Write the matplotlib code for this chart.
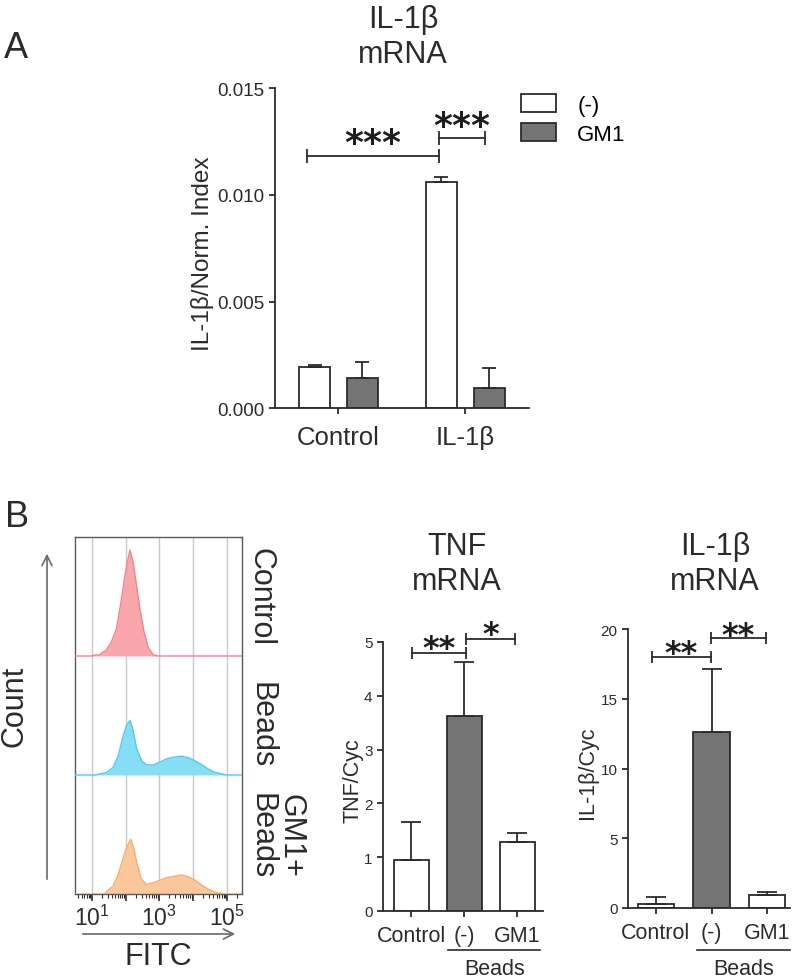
import numpy as np
import matplotlib
matplotlib.use('Agg')
import matplotlib.pyplot as plt
from matplotlib.ticker import FixedLocator, FixedFormatter, LogLocator, NullFormatter

plt.rcParams['font.family'] = ['Liberation Sans', 'DejaVu Sans']
plt.rcParams['mathtext.fontset'] = 'custom'
plt.rcParams['mathtext.rm'] = 'Liberation Sans'
plt.rcParams['mathtext.default'] = 'regular'

W, H = 797, 979

# ---- panel A: IL-1b mRNA / norm. index
a_groups = ['Control', 'IL-1β']
a_neg_mean = [0.00192, 0.01059]
a_neg_sem = [0.00011, 0.00024]
a_gm1_mean = [0.00141, 0.00094]
a_gm1_sem = [0.00078, 0.00094]

# ---- panel B: qPCR bars
b_cats = ['Control', '(-)', 'GM1']
tnf_mean = [0.95, 3.62, 1.28]
tnf_sem = [0.70, 1.00, 0.17]
il_mean = [0.29, 12.64, 0.93]
il_sem = [0.47, 4.49, 0.19]

# ---- panel B: FITC histograms (log10 FITC, % of lane height)
ctrl_logx = [0.5, 1.0, 1.14, 1.2, 1.29, 1.43, 1.58, 1.73, 1.85, 1.95, 2.05, 2.13,
             2.22, 2.32, 2.42, 2.54, 2.67, 2.82, 2.96, 5.45]
ctrl_cnt = [0, 0, 1, 0.5, 2.5, 5, 12, 23, 43, 62, 79, 89,
            79, 60, 40, 21, 7, 1, 0, 0]
beads_logx = [0.5, 1.1, 1.24, 1.43, 1.63, 1.78, 1.93, 2.03, 2.13, 2.22, 2.32, 2.47,
              2.62, 2.82, 3.01, 3.21, 3.41, 3.66, 3.85, 4.05, 4.25, 4.45, 4.64,
              4.99, 5.45]
beads_cnt = [0, 0, 1, 2, 6.5, 16, 33, 42, 46, 37.5, 23, 12,
             8.5, 8.5, 10.7, 13.5, 15, 15.8, 14.7, 12, 8.8, 5, 2.3,
             0, 0]
gm1_logx = [0.5, 1.2, 1.39, 1.43, 1.63, 1.78, 1.93, 2.03, 2.15, 2.24, 2.34, 2.47,
            2.62, 2.82, 3.01, 3.21, 3.46, 3.66, 3.85, 4.05, 4.25, 4.45, 4.64,
            4.95, 5.45]
gm1_cnt = [0, 0, 0.5, 2, 6.7, 16.5, 30.5, 39, 46, 39, 25, 12.3,
           8, 9.5, 11.5, 13.7, 15, 16, 14.6, 11.8, 7.6, 4, 1.7,
           0, 0]

dark = '#2b2b2b'
bar_gray = '#747474'

fig = plt.figure(figsize=(W / 100, H / 100), dpi=100)


def axpx(l, t, r, b):
    return fig.add_axes([l / W, 1 - b / H, (r - l) / W, (b - t) / H])


def fx(x, y):
    return (x / W, 1 - y / H)


def style_bar_axes(ax):
    for s in ['top', 'right']:
        ax.spines[s].set_visible(False)
    for s in ['left', 'bottom']:
        ax.spines[s].set_color(dark)
        ax.spines[s].set_linewidth(1.3)
    ax.tick_params(colors=dark, width=1.3, length=4)


def sig(ax, x1, x2, y, text, fs, gap, cap):
    ax.plot([x1, x2], [y, y], color=dark, lw=1.3, marker='|', markersize=cap,
            mew=1.3, clip_on=False)
    # asterisk glyph sits ~0.38 em above the baseline
    ax.annotate(text, ((x1 + x2) / 2, y), xytext=(0, gap - 0.38 * fs),
                textcoords='offset points', ha='center', va='baseline',
                fontsize=fs, fontweight='bold', family='DejaVu Sans',
                color='#1e1e1e', annotation_clip=False)


# ================= panel A =================
axA = axpx(275, 89.3, 528.6, 409.3)
style_bar_axes(axA)
xa = np.arange(len(a_groups))
bw, off = 0.245, 0.188
axA.bar(xa - off, a_neg_mean, bw, color='white', edgecolor=dark, lw=1.3,
        label='(-)', zorder=2)
axA.bar(xa + off, a_gm1_mean, bw, color=bar_gray, edgecolor=dark, lw=1.3,
        label='GM1', zorder=2)
axA.errorbar(xa - off, a_neg_mean, yerr=[np.zeros(2), a_neg_sem], fmt='none',
             ecolor=dark, elinewidth=1.3, capsize=5, capthick=1.3, zorder=3)
axA.errorbar(xa + off, a_gm1_mean, yerr=[np.zeros(2), a_gm1_sem], fmt='none',
             ecolor=dark, elinewidth=1.3, capsize=5, capthick=1.3, zorder=3)
axA.set_xlim(-0.5, 1.5)
axA.set_ylim(0, 0.015)
axA.set_yticks([0, 0.005, 0.010, 0.015])
axA.set_yticklabels(['0.000', '0.005', '0.010', '0.015'], fontsize=13.5)
axA.set_xticks(xa)
axA.set_xticklabels(a_groups, fontsize=18.5)
axA.tick_params(axis='x', pad=8)
axA.set_ylabel('IL-1β/Norm. Index', fontsize=17.5, color=dark)
axA.yaxis.set_label_coords(-0.24, 0.487)
sig(axA, -0.25, 0.79, 0.01184, '***', 26, 11.5, 9.4)
sig(axA, 0.79, 1.16, 0.01266, '***', 26, 11.5, 9.4)
axA.legend(loc='upper left', bbox_to_anchor=(0.97, 0.982), frameon=False,
           fontsize=16, borderpad=0, borderaxespad=0, handlelength=1.58,
           handleheight=0.86, handletextpad=0.95, labelspacing=0.35)
fig.text(*fx(403, 5), 'IL-1β\nmRNA', ha='center', va='top', fontsize=22,
         linespacing=1.2, color=dark)
fig.text(*fx(4, 31), 'A', ha='left', va='top', fontsize=26, color=dark)

# ================= panel B: FACS =================
axF = axpx(75, 538, 242, 895)
hists = [(ctrl_logx, ctrl_cnt, 2, '#f9a6ac', '#f3838d'),
         (beads_logx, beads_cnt, 1, '#86def6', '#4fcbee'),
         (gm1_logx, gm1_cnt, 0, '#fbc79b', '#f5ae70')]
for lx, cnt, base, fc, ec in hists:
    xs = 10 ** np.array(lx)
    ys = base + np.array(cnt) / 100.0
    axF.fill_between(xs, base, ys, color=fc, lw=0, zorder=2)
    axF.plot(xs, ys, color=ec, lw=1.0, zorder=3)
axF.set_xscale('log')
axF.set_xlim(10 ** 0.5, 10 ** 5.45)
axF.set_ylim(0, 3)
for d in range(1, 6):
    axF.axvline(10 ** d, color='#c9c9c9', lw=1.0, zorder=1)
axF.set_yticks([])
axF.xaxis.set_major_locator(FixedLocator([1e1, 1e2, 1e3, 1e4, 1e5]))
axF.xaxis.set_major_formatter(FixedFormatter(['$10^1$', '', '$10^3$', '', '$10^5$']))
axF.xaxis.set_minor_locator(LogLocator(base=10, subs=np.arange(2, 10), numticks=20))
axF.xaxis.set_minor_formatter(NullFormatter())
axF.tick_params(axis='x', which='major', length=5, width=1.2, colors=dark,
                labelsize=16.5, pad=3)
axF.tick_params(axis='x', which='minor', length=3, width=0.8, colors=dark)
for s in axF.spines.values():
    s.set_color('#5a5a5a')
    s.set_linewidth(1.0)

fig.text(*fx(261, 597), 'Control', rotation=-90, ha='center', va='center',
         fontsize=22, color=dark)
fig.text(*fx(261, 725), 'Beads', rotation=-90, ha='center', va='center',
         fontsize=22, color=dark)
fig.text(*fx(276, 836), 'GM1+\nBeads', rotation=-90, ha='center', va='center',
         fontsize=22, color=dark, linespacing=0.95)
fig.text(*fx(15, 706), 'Count', rotation=90, ha='center', va='center',
         fontsize=22, color=dark)
fig.text(*fx(158, 957), 'FITC', ha='center', va='center', fontsize=22, color=dark)
fig.patches.append(matplotlib.patches.FancyArrowPatch(
    fx(47, 883), fx(47, 552), transform=fig.transFigure, arrowstyle='->',
    mutation_scale=18, color='#6a6a6a', lw=1.2))
fig.patches.append(matplotlib.patches.FancyArrowPatch(
    fx(80, 935), fx(238, 935), transform=fig.transFigure, arrowstyle='->',
    mutation_scale=18, color='#6a6a6a', lw=1.2))
fig.text(*fx(5, 500), 'B', ha='left', va='top', fontsize=26, color=dark)


# ================= panel B: bar charts =================
def bead_panel(ax, mean, sem, ymax, step, ylabel, lab_x, bw, line_y, text_y,
               x_line, x_text):
    style_bar_axes(ax)
    xb = np.arange(len(b_cats))
    colors = ['white', bar_gray, 'white']
    ax.bar(xb, mean, bw, color=colors, edgecolor=dark, lw=1.3, zorder=2)
    ax.errorbar(xb, mean, yerr=[np.zeros(len(sem)), sem], fmt='none', ecolor=dark,
                elinewidth=1.3, capsize=7, capthick=1.3, zorder=3)
    ax.set_ylim(0, ymax)
    ax.set_yticks(np.arange(0, ymax + step / 2, step))
    ax.tick_params(axis='y', labelsize=11)
    ax.set_xticks(xb)
    ax.set_xticklabels(b_cats, fontsize=15.5)
    ax.tick_params(axis='x', pad=6)
    ax.set_ylabel(ylabel, fontsize=15.5, color=dark)
    ax.yaxis.set_label_coords(lab_x, 0.49)
    tr = ax.get_xaxis_transform()
    ax.plot(x_line, [line_y, line_y], color=dark, lw=1.2, transform=tr,
            clip_on=False)
    ax.text(x_text, text_y, 'Beads', transform=tr, ha='center', va='center',
            fontsize=15.5, color=dark)


axT = axpx(383, 643, 543, 912)
axT.set_xlim(-0.53, 2.49)
bead_panel(axT, tnf_mean, tnf_sem, 5, 1, 'TNF/Cyc', -0.12, 0.66,
           -0.145, -0.2156, [0.70, 2.43], 1.58)
sig(axT, 0.02, 1.03, 4.8, '**', 23, 5.5, 8)
sig(axT, 1.03, 1.97, 5.06, '*', 23, 5.5, 8)
fig.text(*fx(457, 532), 'TNF\nmRNA', ha='center', va='top', fontsize=22,
         linespacing=1.2, color=dark)

axI = axpx(628, 630, 790, 909)
axI.set_xlim(-0.5, 2.41)
bead_panel(axI, il_mean, il_sem, 20, 5, 'IL-1β/Cyc', -0.185, 0.65,
           -0.1505, -0.2186, [0.74, 2.41], 1.57)
sig(axI, -0.07, 0.99, 18.0, '**', 23, 4.8, 8)
sig(axI, 0.99, 1.98, 19.35, '**', 23, 4.8, 8)
fig.text(*fx(715, 532), 'IL-1β\nmRNA', ha='center', va='top', fontsize=22,
         linespacing=1.2, color=dark)

fig.savefig('out.png', dpi=100)
